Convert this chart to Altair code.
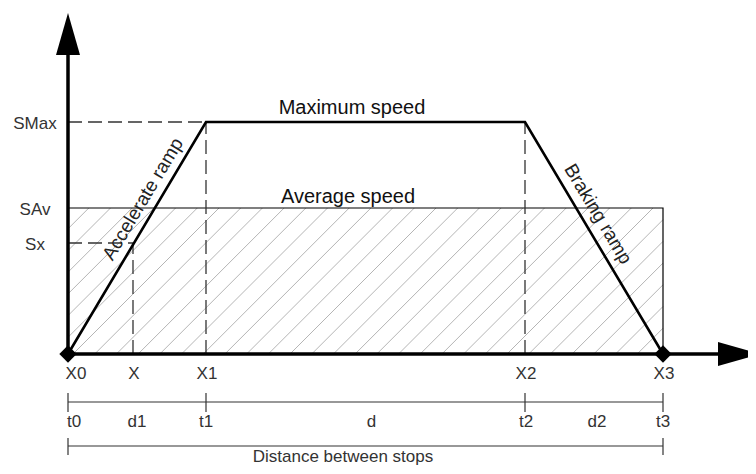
import altair as alt
import pandas as pd
import numpy as np

# ---------------- data (distance units on x, speed units on y) ----------------
stops = ["X0", "X", "X1", "X2", "X3"]
stop_pos = [0, 65, 138, 457, 595]
speed_names = ["SMax", "SAv", "Sx"]
speed_vals = [232, 146, 111]
time_names = ["t0", "t1", "t2", "t3"]
seg_names = ["d1", "d", "d2"]
max_label = "Maximum speed"
avg_label = "Average speed"
accel_label = "Accelerate ramp"
brake_label = "Braking ramp"
footer_label = "Distance between stops"

P = dict(zip(stops, stop_pos))
S = dict(zip(speed_names, speed_vals))

# ---------------- layout constants ----------------
W, H = 740, 458
XDOM = [-60, 680]
YDOM = [-112, 346]
ROW_X = -25        # baseline of X labels
DIM1 = -48         # first dimension line
ROW_T = -73        # baseline of t / d labels
DIM2 = -92         # second dimension line
FOOT = -108        # baseline of footer
FONT = "Liberation Sans"

xs = alt.Scale(domain=XDOM, nice=False, zero=False)
ys = alt.Scale(domain=YDOM, nice=False, zero=False)


def X(f="x"):
    return alt.X(f, type="quantitative", scale=xs, axis=None)


def Y(f="y"):
    return alt.Y(f, type="quantitative", scale=ys, axis=None)


layers = []

# hatch of the average-speed rectangle
x0, x3, sav = P["X0"], P["X3"], S["SAv"]
step = 21.7
cs = np.arange(x0 + 5 - step * 8, x3, step)
hatch = []
for c in cs:
    xa = max(x0, c)
    xb = min(x3, sav + c)
    if xb > xa:
        hatch.append({"x": xa, "y": xa - c, "x2": xb, "y2": xb - c})
layers.append(
    alt.Chart(pd.DataFrame(hatch)).mark_rule(color="#b5b5b5", strokeWidth=1)
    .encode(x=X(), y=Y(), x2="x2", y2="y2")
)

# average-speed rectangle outline
rect = pd.DataFrame([{"x": x0, "x2": x3, "y": 0, "y2": sav}])
layers.append(
    alt.Chart(rect).mark_rect(fill="white", fillOpacity=0, stroke="black", strokeWidth=1.2)
    .encode(x=X(), x2="x2", y=Y(), y2="y2")
)

# dashed guide lines
dash = pd.DataFrame([
    {"x": P["X0"], "y": S["SMax"], "x2": P["X1"], "y2": S["SMax"]},
    {"x": P["X1"], "y": 0, "x2": P["X1"], "y2": S["SMax"]},
    {"x": P["X2"], "y": 0, "x2": P["X2"], "y2": S["SMax"]},
    {"x": P["X0"], "y": S["Sx"], "x2": P["X"], "y2": S["Sx"]},
    {"x": P["X"], "y": 0, "x2": P["X"], "y2": S["Sx"]},
])
layers.append(
    alt.Chart(dash).mark_rule(color="#333333", strokeWidth=1.3, strokeDash=[14, 6])
    .encode(x=X(), y=Y(), x2="x2", y2="y2")
)

# speed profile
prof = pd.DataFrame({
    "x": [P["X0"], P["X1"], P["X2"], P["X3"]],
    "y": [0, S["SMax"], S["SMax"], 0],
    "o": [0, 1, 2, 3],
})
layers.append(
    alt.Chart(prof).mark_line(color="black", strokeWidth=2.6)
    .encode(x=X(), y=Y(), order="o:Q")
)

# axes
axes = pd.DataFrame([
    {"x": 0, "y": 0, "x2": 0, "y2": 305},
    {"x": 0, "y": 0, "x2": 655, "y2": 0},
])
layers.append(
    alt.Chart(axes).mark_rule(color="black", strokeWidth=3.5)
    .encode(x=X(), y=Y(), x2="x2", y2="y2")
)
up = pd.DataFrame([{"y": 299, "x": -12, "x2": 12}, {"y": 341, "x": 0, "x2": 0}])
layers.append(
    alt.Chart(up).mark_area(color="black", orient="horizontal")
    .encode(y=Y(), x=X(), x2="x2")
)
right = pd.DataFrame([{"x": 650, "y": -12, "y2": 12}, {"x": 692, "y": 0, "y2": 0}])
layers.append(
    alt.Chart(right).mark_area(color="black", orient="vertical")
    .encode(x=X(), y=Y(), y2="y2")
)

# diamonds at the stops
dia = pd.DataFrame({"x": [P["X0"], P["X3"]], "y": [0, 0]})
layers.append(
    alt.Chart(dia).mark_point(shape="diamond", filled=True, color="black", size=300, opacity=1)
    .encode(x=X(), y=Y())
)

# dimension lines
dims = pd.DataFrame([
    {"x": P["X0"], "y": DIM1, "x2": P["X3"], "y2": DIM1},
    {"x": P["X0"], "y": DIM2, "x2": P["X3"], "y2": DIM2},
] + [
    {"x": P[k], "y": DIM1 + 9, "x2": P[k], "y2": DIM1 - 10} for k in ["X0", "X1", "X2", "X3"]
] + [
    {"x": P[k], "y": DIM2 + 8, "x2": P[k], "y2": DIM2 - 9} for k in ["X0", "X3"]
])
layers.append(
    alt.Chart(dims).mark_rule(color="#333333", strokeWidth=1.2)
    .encode(x=X(), y=Y(), x2="x2", y2="y2")
)

# y labels
ylab = pd.DataFrame({"t": speed_names, "y": speed_vals, "x": [-33] * 3})
layers.append(
    alt.Chart(ylab).mark_text(font=FONT, fontSize=17, color="#333333", align="center",
                              baseline="alphabetic", dy=7)
    .encode(x=X(), y=Y(), text="t:N")
)

# X labels
xl = pd.DataFrame({"t": stops, "x": [p + (8 if s == "X0" else 1) for s, p in zip(stops, stop_pos)],
                   "y": [ROW_X] * len(stops)})
layers.append(
    alt.Chart(xl).mark_text(font=FONT, fontSize=17, color="#333333", align="center",
                            baseline="alphabetic")
    .encode(x=X(), y=Y(), text="t:N")
)

# t / d labels
tpos = [P["X0"], P["X1"], P["X2"], P["X3"]]
dpos = [(tpos[i] + tpos[i + 1]) / 2 for i in range(3)]
td = pd.DataFrame({
    "t": time_names + seg_names,
    "x": [tpos[0] + 6, tpos[1], tpos[2] + 1, tpos[3]] + [dpos[0], dpos[1] + 6, dpos[2] + 3],
    "y": [ROW_T] * 7,
})
layers.append(
    alt.Chart(td).mark_text(font=FONT, fontSize=17, color="#333333", align="center",
                            baseline="alphabetic")
    .encode(x=X(), y=Y(), text="t:N")
)

# footer
foot = pd.DataFrame({"t": [footer_label], "x": [275], "y": [FOOT]})
layers.append(
    alt.Chart(foot).mark_text(font=FONT, fontSize=17, color="#333333", align="center",
                              baseline="alphabetic")
    .encode(x=X(), y=Y(), text="t:N")
)

# speed titles
titles = pd.DataFrame({"t": [max_label, avg_label], "x": [284, 280], "y": [240, 151]})
layers.append(
    alt.Chart(titles).mark_text(font=FONT, fontSize=20, color="#111111", align="center",
                                baseline="alphabetic")
    .encode(x=X(), y=Y(), text="t:N")
)

# ramp labels
acc = pd.DataFrame({"t": [accel_label], "x": [75], "y": [155]})
layers.append(
    alt.Chart(acc).mark_text(font=FONT, fontSize=19, color="#222222", align="center",
                             baseline="middle", angle=301)
    .encode(x=X(), y=Y(), text="t:N")
)
brk = pd.DataFrame({"t": [brake_label], "x": [530], "y": [140]})
layers.append(
    alt.Chart(brk).mark_text(font=FONT, fontSize=19, color="#222222", align="center",
                             baseline="middle", angle=59)
    .encode(x=X(), y=Y(), text="t:N")
)

chart = alt.layer(*layers).properties(
    width=W, height=H, autosize=alt.AutoSizeParams(type="none"), padding=0
).configure_view(stroke=None)

chart.save("out.html", embed_options={"renderer": "svg", "actions": False})
